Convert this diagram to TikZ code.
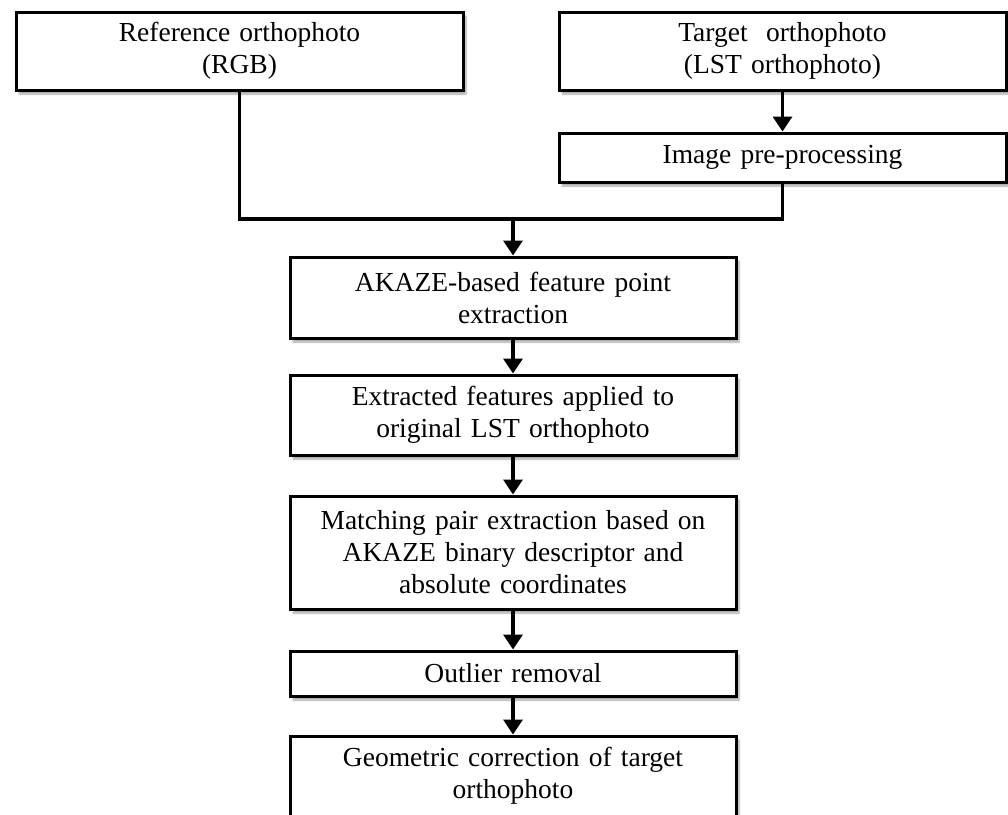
\documentclass[tikz,border=0pt]{standalone}
\usepackage{fontspec}
\setmainfont{Liberation Serif}
\usetikzlibrary{arrows.meta,shadows.blur}
\tikzset{
	box/.style = {draw, line width=3pt, fill=white, align=center, text width=430pt,
		font=\fontsize{27.5}{32}\selectfont, inner sep=0pt,
		blur shadow={shadow xshift=3pt, shadow yshift=-4pt, shadow blur steps=6, shadow opacity=35}},
	flow/.style = {line width=3.5pt},
	arr/.style = {flow, -{Triangle[length=15pt,width=19pt]}}
}
\begin{document}
\begin{tikzpicture}[x=1pt,y=-1pt]
	\useasboundingbox (0,0) rectangle (1008,814);
	\node[box, minimum width=447pt, minimum height=78pt] (ref) at (239.5,51) {Reference orthophoto\\(RGB)};
	\node[box, minimum width=447pt, minimum height=78pt] (tgt) at (782.5,51) {Target\ \ orthophoto\\(LST orthophoto)};
	\node[box, minimum width=447pt, minimum height=49pt] (prep) at (782.5,157.5) {Image pre-processing};
	\node[box, minimum width=446pt, minimum height=81pt] (akaze) at (513,297.5) {AKAZE-based feature point\\extraction};
	\node[box, minimum width=446pt, minimum height=80pt] (extr) at (513,415) {Extracted features applied to\\original LST orthophoto};
	\node[box, minimum width=446pt, minimum height=113pt] (match) at (513,552.5) {Matching pair extraction based on\\AKAZE binary descriptor and\\absolute coordinates};
	\node[box, minimum width=446pt, minimum height=45pt] (outl) at (513,673.5) {Outlier removal};
	\node[box, minimum width=446pt, minimum height=80pt] (geom) at (513,776) {Geometric correction of target\\orthophoto};
	\coordinate (join) at (513,219);
	% merge of both inputs
	\draw[flow] (ref.south) |- (prep.south |- join) -- (prep.south);
	\draw[arr] (tgt) -- (prep);
	\draw[arr] (join) -- (akaze.north);
	\draw[arr] (akaze) -- (extr);
	\draw[arr] (extr) -- (match);
	\draw[arr] (match) -- (outl);
	\draw[arr] (outl) -- (geom);
\end{tikzpicture}
\end{document}
